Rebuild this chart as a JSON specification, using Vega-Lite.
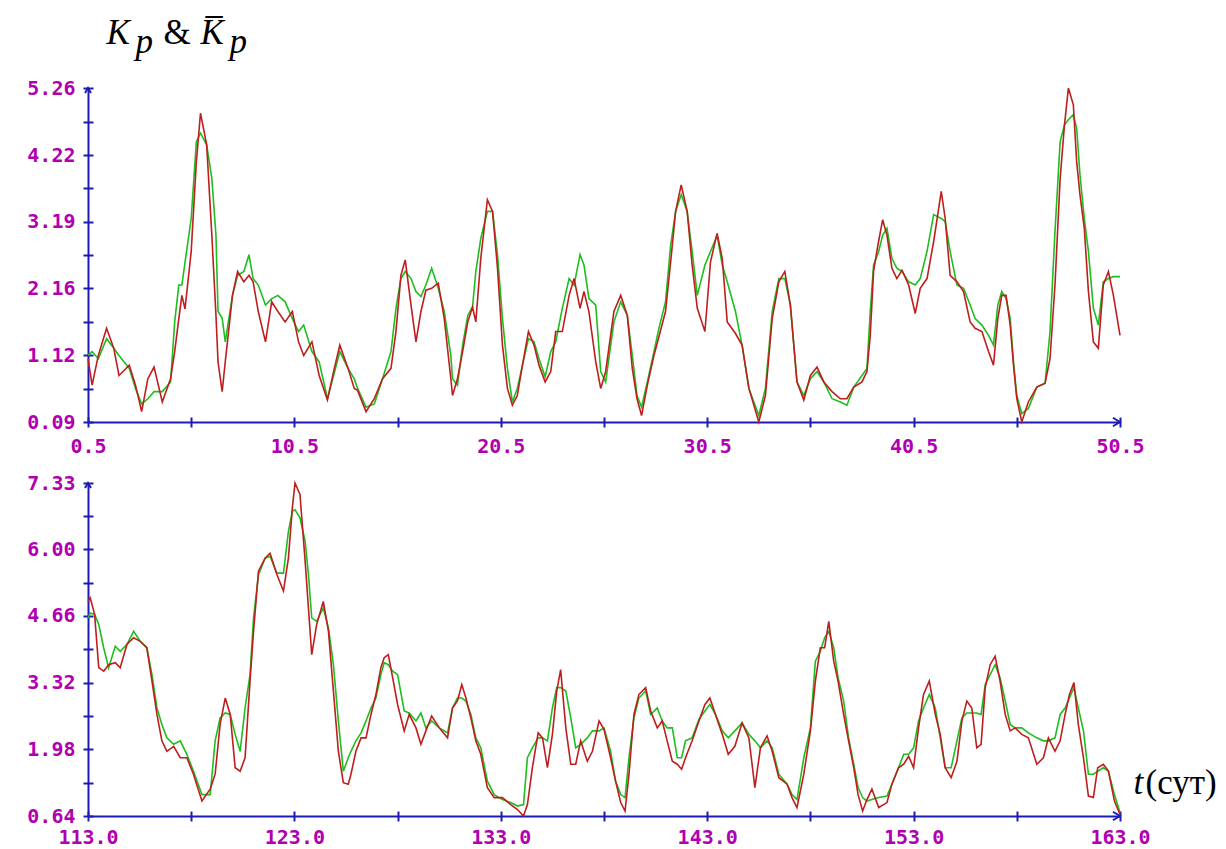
{
  "$schema": "https://vega.github.io/schema/vega-lite/v6.json",
  "autosize": {"type": "none"},
  "padding": {"left": 88, "top": 88, "right": 1138, "bottom": 761},
  "background": "white",
  "bounds": "flush",
  "spacing": 61,
  "config": {
    "view": {"stroke": null},
    "axis": {
      "grid": false,
      "domainColor": "#1c1cb4",
      "domainWidth": 2,
      "tickColor": "#1c1cb4",
      "tickWidth": 2,
      "tickSize": 5,
      "labelColor": "#b000b0",
      "labelFont": "DejaVu Sans Mono",
      "labelFontWeight": "bold",
      "labelFontSize": 20,
      "labelFlush": false,
      "labelOverlap": false,
      "labelBound": false,
      "titleColor": "black",
      "titleFont": "Liberation Serif",
      "titleFontWeight": "normal",
      "titleFontSize": 35,
      "titleAngle": 0,
      "titleAlign": "left",
      "titleBaseline": "alphabetic"
    }
  },
  "datasets": {
    "top": [
      {"t": 0.5, "Kp": 1.07, "Kbar": 1.12},
      {"t": 0.7, "Kp": 0.66, "Kbar": 1.18},
      {"t": 1.0, "Kp": 1.12, "Kbar": 1.07},
      {"t": 1.4, "Kp": 1.54, "Kbar": 1.38},
      {"t": 1.75, "Kp": 1.23, "Kbar": 1.23},
      {"t": 2.0, "Kp": 0.81, "Kbar": 1.12},
      {"t": 2.5, "Kp": 0.97, "Kbar": 0.92},
      {"t": 2.8, "Kp": 0.66, "Kbar": 0.61},
      {"t": 3.1, "Kp": 0.25, "Kbar": 0.37},
      {"t": 3.4, "Kp": 0.76, "Kbar": 0.45},
      {"t": 3.7, "Kp": 0.94, "Kbar": 0.56},
      {"t": 4.1, "Kp": 0.40, "Kbar": 0.56},
      {"t": 4.5, "Kp": 0.76, "Kbar": 0.71},
      {"t": 4.7, "Kp": 1.18, "Kbar": 1.64},
      {"t": 4.9, "Kp": 1.69, "Kbar": 2.21},
      {"t": 5.05, "Kp": 2.05, "Kbar": 2.21},
      {"t": 5.2, "Kp": 1.84, "Kbar": 2.56},
      {"t": 5.5, "Kp": 2.73, "Kbar": 3.24},
      {"t": 5.75, "Kp": 4.12, "Kbar": 4.43},
      {"t": 5.95, "Kp": 4.87, "Kbar": 4.56},
      {"t": 6.25, "Kp": 4.38, "Kbar": 4.38},
      {"t": 6.5, "Kp": 2.98, "Kbar": 3.86},
      {"t": 6.7, "Kp": 1.74, "Kbar": 2.98},
      {"t": 6.8, "Kp": 1.02, "Kbar": 1.80},
      {"t": 7.0, "Kp": 0.56, "Kbar": 1.70},
      {"t": 7.15, "Kp": 1.02, "Kbar": 1.33},
      {"t": 7.5, "Kp": 2.05, "Kbar": 2.05},
      {"t": 7.75, "Kp": 2.42, "Kbar": 2.36},
      {"t": 8.05, "Kp": 2.26, "Kbar": 2.42},
      {"t": 8.3, "Kp": 2.36, "Kbar": 2.68},
      {"t": 8.5, "Kp": 2.26, "Kbar": 2.31},
      {"t": 8.75, "Kp": 1.80, "Kbar": 2.21},
      {"t": 9.1, "Kp": 1.33, "Kbar": 1.90},
      {"t": 9.4, "Kp": 1.95, "Kbar": 2.00},
      {"t": 9.7, "Kp": 1.80, "Kbar": 2.05},
      {"t": 10.05, "Kp": 1.64, "Kbar": 1.95},
      {"t": 10.4, "Kp": 1.80, "Kbar": 1.69},
      {"t": 10.7, "Kp": 1.33, "Kbar": 1.49},
      {"t": 10.95, "Kp": 1.12, "Kbar": 1.59},
      {"t": 11.35, "Kp": 1.33, "Kbar": 1.18},
      {"t": 11.7, "Kp": 0.81, "Kbar": 1.02},
      {"t": 12.1, "Kp": 0.43, "Kbar": 0.45},
      {"t": 12.4, "Kp": 0.87, "Kbar": 0.81},
      {"t": 12.7, "Kp": 1.28, "Kbar": 1.18},
      {"t": 13.1, "Kp": 0.92, "Kbar": 0.92},
      {"t": 13.4, "Kp": 0.61, "Kbar": 0.76},
      {"t": 13.56, "Kp": 0.58, "Kbar": 0.61},
      {"t": 13.97, "Kp": 0.25, "Kbar": 0.32},
      {"t": 14.37, "Kp": 0.45, "Kbar": 0.37},
      {"t": 14.77, "Kp": 0.76, "Kbar": 0.76},
      {"t": 15.18, "Kp": 0.92, "Kbar": 1.18},
      {"t": 15.42, "Kp": 1.49, "Kbar": 1.85},
      {"t": 15.66, "Kp": 2.36, "Kbar": 2.31},
      {"t": 15.87, "Kp": 2.60, "Kbar": 2.42},
      {"t": 16.15, "Kp": 1.90, "Kbar": 2.31},
      {"t": 16.39, "Kp": 1.33, "Kbar": 2.11},
      {"t": 16.63, "Kp": 1.80, "Kbar": 2.03},
      {"t": 16.87, "Kp": 2.13, "Kbar": 2.21},
      {"t": 17.15, "Kp": 2.16, "Kbar": 2.47},
      {"t": 17.47, "Kp": 2.24, "Kbar": 2.16},
      {"t": 17.76, "Kp": 1.69, "Kbar": 1.80},
      {"t": 18.08, "Kp": 0.76, "Kbar": 1.12},
      {"t": 18.16, "Kp": 0.50, "Kbar": 0.76},
      {"t": 18.4, "Kp": 0.76, "Kbar": 0.66},
      {"t": 18.65, "Kp": 1.18, "Kbar": 1.28},
      {"t": 18.9, "Kp": 1.64, "Kbar": 1.74},
      {"t": 19.13, "Kp": 1.87, "Kbar": 1.87},
      {"t": 19.29, "Kp": 1.64, "Kbar": 2.42},
      {"t": 19.53, "Kp": 2.62, "Kbar": 2.93},
      {"t": 19.85, "Kp": 3.53, "Kbar": 3.35},
      {"t": 20.1, "Kp": 3.35, "Kbar": 3.35},
      {"t": 20.34, "Kp": 2.47, "Kbar": 2.68},
      {"t": 20.58, "Kp": 1.28, "Kbar": 1.69},
      {"t": 20.82, "Kp": 0.61, "Kbar": 0.92},
      {"t": 21.06, "Kp": 0.35, "Kbar": 0.40},
      {"t": 21.3, "Kp": 0.50, "Kbar": 0.61},
      {"t": 21.55, "Kp": 0.97, "Kbar": 0.97},
      {"t": 21.84, "Kp": 1.49, "Kbar": 1.38},
      {"t": 22.11, "Kp": 1.28, "Kbar": 1.33},
      {"t": 22.35, "Kp": 0.97, "Kbar": 1.07},
      {"t": 22.65, "Kp": 0.71, "Kbar": 0.79},
      {"t": 22.92, "Kp": 0.87, "Kbar": 1.18},
      {"t": 23.16, "Kp": 1.49, "Kbar": 1.33},
      {"t": 23.48, "Kp": 1.49, "Kbar": 1.85},
      {"t": 23.81, "Kp": 2.05, "Kbar": 2.31},
      {"t": 24.05, "Kp": 2.31, "Kbar": 2.21},
      {"t": 24.34, "Kp": 1.85, "Kbar": 2.68},
      {"t": 24.53, "Kp": 2.11, "Kbar": 2.52},
      {"t": 24.77, "Kp": 1.80, "Kbar": 2.00},
      {"t": 25.1, "Kp": 1.02, "Kbar": 1.90},
      {"t": 25.34, "Kp": 0.61, "Kbar": 0.87},
      {"t": 25.58, "Kp": 0.87, "Kbar": 0.71},
      {"t": 25.98, "Kp": 1.80, "Kbar": 1.64},
      {"t": 26.31, "Kp": 2.05, "Kbar": 1.95},
      {"t": 26.63, "Kp": 1.74, "Kbar": 1.74},
      {"t": 26.87, "Kp": 0.92, "Kbar": 1.12},
      {"t": 27.1, "Kp": 0.45, "Kbar": 0.50},
      {"t": 27.32, "Kp": 0.19, "Kbar": 0.32},
      {"t": 27.6, "Kp": 0.66, "Kbar": 0.71},
      {"t": 27.92, "Kp": 1.12, "Kbar": 1.18},
      {"t": 28.16, "Kp": 1.41, "Kbar": 1.54},
      {"t": 28.48, "Kp": 1.80, "Kbar": 1.95},
      {"t": 28.73, "Kp": 2.57, "Kbar": 2.83},
      {"t": 28.97, "Kp": 3.35, "Kbar": 3.35},
      {"t": 29.24, "Kp": 3.76, "Kbar": 3.61},
      {"t": 29.53, "Kp": 3.35, "Kbar": 3.35},
      {"t": 29.77, "Kp": 2.52, "Kbar": 2.73},
      {"t": 30.02, "Kp": 1.85, "Kbar": 2.05},
      {"t": 30.39, "Kp": 1.49, "Kbar": 2.52},
      {"t": 30.66, "Kp": 2.57, "Kbar": 2.73},
      {"t": 30.98, "Kp": 3.01, "Kbar": 2.98},
      {"t": 31.23, "Kp": 2.62, "Kbar": 2.52},
      {"t": 31.47, "Kp": 1.64, "Kbar": 2.26},
      {"t": 31.87, "Kp": 1.46, "Kbar": 1.80},
      {"t": 32.19, "Kp": 1.28, "Kbar": 1.28},
      {"t": 32.52, "Kp": 0.61, "Kbar": 0.61},
      {"t": 33.0, "Kp": 0.09, "Kbar": 0.19},
      {"t": 33.32, "Kp": 0.50, "Kbar": 0.61},
      {"t": 33.65, "Kp": 1.69, "Kbar": 1.80},
      {"t": 33.97, "Kp": 2.26, "Kbar": 2.31},
      {"t": 34.26, "Kp": 2.42, "Kbar": 2.31},
      {"t": 34.53, "Kp": 1.90, "Kbar": 1.90},
      {"t": 34.85, "Kp": 0.71, "Kbar": 0.71},
      {"t": 35.18, "Kp": 0.43, "Kbar": 0.50},
      {"t": 35.5, "Kp": 0.81, "Kbar": 0.76},
      {"t": 35.82, "Kp": 0.94, "Kbar": 0.87},
      {"t": 36.15, "Kp": 0.71, "Kbar": 0.71},
      {"t": 36.55, "Kp": 0.56, "Kbar": 0.45},
      {"t": 36.95, "Kp": 0.45, "Kbar": 0.40},
      {"t": 37.27, "Kp": 0.45, "Kbar": 0.35},
      {"t": 37.6, "Kp": 0.63, "Kbar": 0.63},
      {"t": 38.0, "Kp": 0.71, "Kbar": 0.81},
      {"t": 38.24, "Kp": 0.87, "Kbar": 0.92},
      {"t": 38.4, "Kp": 1.43, "Kbar": 1.80},
      {"t": 38.56, "Kp": 2.42, "Kbar": 2.52},
      {"t": 38.8, "Kp": 2.88, "Kbar": 2.72},
      {"t": 39.0, "Kp": 3.22, "Kbar": 2.98},
      {"t": 39.21, "Kp": 2.98, "Kbar": 3.09},
      {"t": 39.45, "Kp": 2.47, "Kbar": 2.62},
      {"t": 39.69, "Kp": 2.31, "Kbar": 2.47},
      {"t": 39.94, "Kp": 2.44, "Kbar": 2.42},
      {"t": 40.26, "Kp": 2.21, "Kbar": 2.26},
      {"t": 40.58, "Kp": 1.77, "Kbar": 2.21},
      {"t": 40.82, "Kp": 2.16, "Kbar": 2.31},
      {"t": 41.15, "Kp": 2.31, "Kbar": 2.73},
      {"t": 41.47, "Kp": 2.88, "Kbar": 3.30},
      {"t": 41.84, "Kp": 3.66, "Kbar": 3.24},
      {"t": 42.03, "Kp": 3.24, "Kbar": 3.19},
      {"t": 42.27, "Kp": 2.36, "Kbar": 2.73},
      {"t": 42.6, "Kp": 2.26, "Kbar": 2.21},
      {"t": 42.92, "Kp": 2.11, "Kbar": 2.16},
      {"t": 43.24, "Kp": 1.64, "Kbar": 1.90},
      {"t": 43.48, "Kp": 1.54, "Kbar": 1.69},
      {"t": 43.81, "Kp": 1.49, "Kbar": 1.59},
      {"t": 44.13, "Kp": 1.18, "Kbar": 1.43},
      {"t": 44.37, "Kp": 0.97, "Kbar": 1.28},
      {"t": 44.58, "Kp": 1.69, "Kbar": 1.90},
      {"t": 44.77, "Kp": 2.05, "Kbar": 2.11},
      {"t": 44.98, "Kp": 2.05, "Kbar": 2.00},
      {"t": 45.18, "Kp": 1.59, "Kbar": 1.69},
      {"t": 45.34, "Kp": 0.97, "Kbar": 1.02},
      {"t": 45.5, "Kp": 0.45, "Kbar": 0.50},
      {"t": 45.74, "Kp": 0.09, "Kbar": 0.22},
      {"t": 46.06, "Kp": 0.40, "Kbar": 0.30},
      {"t": 46.47, "Kp": 0.63, "Kbar": 0.63},
      {"t": 46.87, "Kp": 0.69, "Kbar": 0.69},
      {"t": 47.11, "Kp": 1.07, "Kbar": 1.49},
      {"t": 47.35, "Kp": 2.21, "Kbar": 3.04},
      {"t": 47.6, "Kp": 3.86, "Kbar": 4.43},
      {"t": 47.81, "Kp": 4.69, "Kbar": 4.69},
      {"t": 48.0, "Kp": 5.26, "Kbar": 4.77},
      {"t": 48.24, "Kp": 5.00, "Kbar": 4.85},
      {"t": 48.4, "Kp": 4.12, "Kbar": 4.64},
      {"t": 48.56, "Kp": 3.61, "Kbar": 3.92},
      {"t": 48.77, "Kp": 3.09, "Kbar": 3.24},
      {"t": 48.97, "Kp": 2.11, "Kbar": 2.73},
      {"t": 49.21, "Kp": 1.33, "Kbar": 1.85},
      {"t": 49.45, "Kp": 1.23, "Kbar": 1.59},
      {"t": 49.69, "Kp": 2.21, "Kbar": 2.26},
      {"t": 49.94, "Kp": 2.42, "Kbar": 2.31},
      {"t": 50.18, "Kp": 2.05, "Kbar": 2.34},
      {"t": 50.5, "Kp": 1.43, "Kbar": 2.34}
    ],
    "bottom": [
      {"t": 113.0, "Kp": 4.95, "Kbar": 4.62},
      {"t": 113.11, "Kp": 5.02, "Kbar": 4.72},
      {"t": 113.32, "Kp": 4.69, "Kbar": 4.69},
      {"t": 113.52, "Kp": 3.62, "Kbar": 4.49},
      {"t": 113.76, "Kp": 3.55, "Kbar": 4.02},
      {"t": 114.0, "Kp": 3.68, "Kbar": 3.62},
      {"t": 114.32, "Kp": 3.72, "Kbar": 4.05},
      {"t": 114.56, "Kp": 3.62, "Kbar": 3.95},
      {"t": 114.89, "Kp": 4.09, "Kbar": 4.09},
      {"t": 115.21, "Kp": 4.22, "Kbar": 4.35},
      {"t": 115.53, "Kp": 4.15, "Kbar": 4.15},
      {"t": 115.85, "Kp": 4.02, "Kbar": 4.02},
      {"t": 116.1, "Kp": 3.35, "Kbar": 3.48},
      {"t": 116.34, "Kp": 2.68, "Kbar": 2.81},
      {"t": 116.58, "Kp": 2.15, "Kbar": 2.48},
      {"t": 116.82, "Kp": 1.94, "Kbar": 2.21},
      {"t": 117.15, "Kp": 2.04, "Kbar": 2.08},
      {"t": 117.47, "Kp": 1.81, "Kbar": 2.15},
      {"t": 117.79, "Kp": 1.81, "Kbar": 1.88},
      {"t": 118.11, "Kp": 1.48, "Kbar": 1.54},
      {"t": 118.52, "Kp": 0.94, "Kbar": 1.07},
      {"t": 118.92, "Kp": 1.18, "Kbar": 1.07},
      {"t": 119.16, "Kp": 1.48, "Kbar": 2.15},
      {"t": 119.4, "Kp": 2.48, "Kbar": 2.61},
      {"t": 119.65, "Kp": 3.01, "Kbar": 2.71},
      {"t": 119.89, "Kp": 2.68, "Kbar": 2.68},
      {"t": 120.13, "Kp": 1.61, "Kbar": 2.28},
      {"t": 120.37, "Kp": 1.54, "Kbar": 1.94},
      {"t": 120.61, "Kp": 1.81, "Kbar": 2.81},
      {"t": 120.85, "Kp": 3.35, "Kbar": 3.48},
      {"t": 121.02, "Kp": 4.35, "Kbar": 4.62},
      {"t": 121.26, "Kp": 5.56, "Kbar": 5.49},
      {"t": 121.58, "Kp": 5.82, "Kbar": 5.82},
      {"t": 121.82, "Kp": 5.92, "Kbar": 5.86},
      {"t": 122.15, "Kp": 5.49, "Kbar": 5.52},
      {"t": 122.47, "Kp": 5.16, "Kbar": 5.52},
      {"t": 122.71, "Kp": 5.82, "Kbar": 6.36},
      {"t": 122.9, "Kp": 6.83, "Kbar": 6.76},
      {"t": 123.03, "Kp": 7.33, "Kbar": 6.79},
      {"t": 123.27, "Kp": 7.10, "Kbar": 6.63},
      {"t": 123.52, "Kp": 5.76, "Kbar": 6.16},
      {"t": 123.68, "Kp": 4.82, "Kbar": 5.49},
      {"t": 123.84, "Kp": 3.88, "Kbar": 4.62},
      {"t": 124.08, "Kp": 4.49, "Kbar": 4.55},
      {"t": 124.4, "Kp": 4.95, "Kbar": 4.82},
      {"t": 124.65, "Kp": 4.35, "Kbar": 4.42},
      {"t": 124.89, "Kp": 3.15, "Kbar": 3.68},
      {"t": 125.13, "Kp": 1.94, "Kbar": 2.55},
      {"t": 125.37, "Kp": 1.31, "Kbar": 1.54},
      {"t": 125.61, "Kp": 1.28, "Kbar": 1.81},
      {"t": 125.74, "Kp": 1.48, "Kbar": 1.94},
      {"t": 125.98, "Kp": 1.94, "Kbar": 2.15},
      {"t": 126.23, "Kp": 2.21, "Kbar": 2.31},
      {"t": 126.47, "Kp": 2.21, "Kbar": 2.55},
      {"t": 126.71, "Kp": 2.68, "Kbar": 2.81},
      {"t": 126.95, "Kp": 3.08, "Kbar": 3.01},
      {"t": 127.19, "Kp": 3.62, "Kbar": 3.48},
      {"t": 127.35, "Kp": 3.82, "Kbar": 3.72},
      {"t": 127.55, "Kp": 3.88, "Kbar": 3.68},
      {"t": 127.76, "Kp": 3.42, "Kbar": 3.55},
      {"t": 128.0, "Kp": 2.88, "Kbar": 3.48},
      {"t": 128.32, "Kp": 2.35, "Kbar": 2.75},
      {"t": 128.56, "Kp": 2.68, "Kbar": 2.71},
      {"t": 128.89, "Kp": 2.41, "Kbar": 2.55},
      {"t": 129.13, "Kp": 2.08, "Kbar": 2.71},
      {"t": 129.37, "Kp": 2.35, "Kbar": 2.41},
      {"t": 129.65, "Kp": 2.65, "Kbar": 2.55},
      {"t": 130.02, "Kp": 2.41, "Kbar": 2.41},
      {"t": 130.42, "Kp": 2.21, "Kbar": 2.31},
      {"t": 130.66, "Kp": 2.81, "Kbar": 2.81},
      {"t": 130.9, "Kp": 2.95, "Kbar": 3.01},
      {"t": 131.11, "Kp": 3.28, "Kbar": 3.01},
      {"t": 131.31, "Kp": 3.01, "Kbar": 2.95},
      {"t": 131.55, "Kp": 2.61, "Kbar": 2.68},
      {"t": 131.79, "Kp": 2.15, "Kbar": 2.21},
      {"t": 132.03, "Kp": 1.88, "Kbar": 2.01},
      {"t": 132.35, "Kp": 1.21, "Kbar": 1.34},
      {"t": 132.68, "Kp": 1.01, "Kbar": 1.07},
      {"t": 133.08, "Kp": 1.01, "Kbar": 0.97},
      {"t": 133.48, "Kp": 0.87, "Kbar": 0.91},
      {"t": 133.81, "Kp": 0.77, "Kbar": 0.84},
      {"t": 134.1, "Kp": 0.64, "Kbar": 0.87},
      {"t": 134.29, "Kp": 0.87, "Kbar": 1.81},
      {"t": 134.53, "Kp": 1.61, "Kbar": 2.01},
      {"t": 134.81, "Kp": 2.31, "Kbar": 2.21},
      {"t": 135.02, "Kp": 2.21, "Kbar": 2.21},
      {"t": 135.26, "Kp": 1.61, "Kbar": 2.15},
      {"t": 135.5, "Kp": 2.28, "Kbar": 2.81},
      {"t": 135.71, "Kp": 3.15, "Kbar": 3.22},
      {"t": 135.9, "Kp": 3.58, "Kbar": 3.22},
      {"t": 136.15, "Kp": 2.41, "Kbar": 3.15},
      {"t": 136.39, "Kp": 1.68, "Kbar": 2.61},
      {"t": 136.63, "Kp": 1.68, "Kbar": 2.01},
      {"t": 136.87, "Kp": 2.15, "Kbar": 2.08},
      {"t": 137.19, "Kp": 1.74, "Kbar": 2.21},
      {"t": 137.44, "Kp": 1.94, "Kbar": 2.35},
      {"t": 137.76, "Kp": 2.55, "Kbar": 2.35},
      {"t": 138.0, "Kp": 2.38, "Kbar": 2.41},
      {"t": 138.32, "Kp": 1.81, "Kbar": 1.94},
      {"t": 138.56, "Kp": 1.34, "Kbar": 1.34},
      {"t": 138.81, "Kp": 0.91, "Kbar": 1.07},
      {"t": 139.02, "Kp": 0.74, "Kbar": 1.01},
      {"t": 139.21, "Kp": 1.48, "Kbar": 1.81},
      {"t": 139.45, "Kp": 2.68, "Kbar": 2.61},
      {"t": 139.69, "Kp": 3.08, "Kbar": 3.01},
      {"t": 140.02, "Kp": 3.22, "Kbar": 3.15},
      {"t": 140.26, "Kp": 2.75, "Kbar": 2.68},
      {"t": 140.58, "Kp": 2.41, "Kbar": 2.81},
      {"t": 140.82, "Kp": 2.55, "Kbar": 2.55},
      {"t": 141.06, "Kp": 2.15, "Kbar": 2.41},
      {"t": 141.31, "Kp": 1.74, "Kbar": 2.41},
      {"t": 141.55, "Kp": 1.68, "Kbar": 1.81},
      {"t": 141.76, "Kp": 1.58, "Kbar": 1.81},
      {"t": 141.95, "Kp": 1.81, "Kbar": 2.15},
      {"t": 142.27, "Kp": 2.15, "Kbar": 2.21},
      {"t": 142.6, "Kp": 2.55, "Kbar": 2.58},
      {"t": 142.89, "Kp": 2.88, "Kbar": 2.75},
      {"t": 143.13, "Kp": 3.01, "Kbar": 2.88},
      {"t": 143.4, "Kp": 2.68, "Kbar": 2.68},
      {"t": 143.73, "Kp": 2.28, "Kbar": 2.35},
      {"t": 144.02, "Kp": 1.88, "Kbar": 2.21},
      {"t": 144.34, "Kp": 2.04, "Kbar": 2.35},
      {"t": 144.69, "Kp": 2.51, "Kbar": 2.51},
      {"t": 145.02, "Kp": 2.21, "Kbar": 2.28},
      {"t": 145.31, "Kp": 1.21, "Kbar": 2.15},
      {"t": 145.58, "Kp": 2.01, "Kbar": 2.01},
      {"t": 145.9, "Kp": 2.25, "Kbar": 2.15},
      {"t": 146.15, "Kp": 1.94, "Kbar": 2.01},
      {"t": 146.47, "Kp": 1.41, "Kbar": 1.48},
      {"t": 146.87, "Kp": 1.28, "Kbar": 1.28},
      {"t": 147.11, "Kp": 1.01, "Kbar": 1.07},
      {"t": 147.35, "Kp": 0.81, "Kbar": 0.97},
      {"t": 147.68, "Kp": 1.48, "Kbar": 1.81},
      {"t": 148.0, "Kp": 2.35, "Kbar": 2.41},
      {"t": 148.24, "Kp": 3.35, "Kbar": 3.75},
      {"t": 148.48, "Kp": 4.02, "Kbar": 3.95},
      {"t": 148.69, "Kp": 4.02, "Kbar": 4.22},
      {"t": 148.89, "Kp": 4.55, "Kbar": 4.35},
      {"t": 149.13, "Kp": 3.75, "Kbar": 4.02},
      {"t": 149.34, "Kp": 3.35, "Kbar": 3.42},
      {"t": 149.61, "Kp": 2.68, "Kbar": 2.95},
      {"t": 149.85, "Kp": 2.15, "Kbar": 2.21},
      {"t": 150.1, "Kp": 1.61, "Kbar": 1.68},
      {"t": 150.31, "Kp": 1.07, "Kbar": 1.21},
      {"t": 150.53, "Kp": 0.74, "Kbar": 1.01},
      {"t": 150.74, "Kp": 0.97, "Kbar": 0.94},
      {"t": 150.98, "Kp": 1.18, "Kbar": 0.97},
      {"t": 151.31, "Kp": 0.81, "Kbar": 1.01},
      {"t": 151.71, "Kp": 0.91, "Kbar": 1.04},
      {"t": 151.95, "Kp": 1.28, "Kbar": 1.28},
      {"t": 152.27, "Kp": 1.61, "Kbar": 1.61},
      {"t": 152.52, "Kp": 1.68, "Kbar": 1.88},
      {"t": 152.76, "Kp": 1.84, "Kbar": 1.88},
      {"t": 153.0, "Kp": 1.61, "Kbar": 2.01},
      {"t": 153.24, "Kp": 2.41, "Kbar": 2.55},
      {"t": 153.48, "Kp": 3.08, "Kbar": 2.81},
      {"t": 153.76, "Kp": 3.35, "Kbar": 3.08},
      {"t": 154.05, "Kp": 2.68, "Kbar": 2.81},
      {"t": 154.29, "Kp": 2.28, "Kbar": 2.21},
      {"t": 154.53, "Kp": 1.61, "Kbar": 1.61},
      {"t": 154.82, "Kp": 1.41, "Kbar": 1.61},
      {"t": 155.1, "Kp": 1.74, "Kbar": 2.15},
      {"t": 155.34, "Kp": 2.55, "Kbar": 2.61},
      {"t": 155.58, "Kp": 2.95, "Kbar": 2.71},
      {"t": 155.82, "Kp": 2.81, "Kbar": 2.71},
      {"t": 156.06, "Kp": 2.01, "Kbar": 2.71},
      {"t": 156.27, "Kp": 2.08, "Kbar": 2.68},
      {"t": 156.47, "Kp": 3.22, "Kbar": 3.28},
      {"t": 156.71, "Kp": 3.68, "Kbar": 3.48},
      {"t": 156.95, "Kp": 3.85, "Kbar": 3.68},
      {"t": 157.19, "Kp": 3.35, "Kbar": 3.42},
      {"t": 157.44, "Kp": 2.68, "Kbar": 2.95},
      {"t": 157.68, "Kp": 2.35, "Kbar": 2.48},
      {"t": 157.92, "Kp": 2.41, "Kbar": 2.41},
      {"t": 158.24, "Kp": 2.28, "Kbar": 2.41},
      {"t": 158.56, "Kp": 2.21, "Kbar": 2.31},
      {"t": 158.97, "Kp": 1.68, "Kbar": 2.21},
      {"t": 159.29, "Kp": 1.81, "Kbar": 2.15},
      {"t": 159.53, "Kp": 2.21, "Kbar": 2.15},
      {"t": 159.85, "Kp": 1.94, "Kbar": 2.21},
      {"t": 160.1, "Kp": 2.15, "Kbar": 2.68},
      {"t": 160.34, "Kp": 2.68, "Kbar": 2.81},
      {"t": 160.55, "Kp": 3.08, "Kbar": 3.01},
      {"t": 160.77, "Kp": 3.32, "Kbar": 3.22},
      {"t": 160.98, "Kp": 2.48, "Kbar": 2.81},
      {"t": 161.23, "Kp": 1.81, "Kbar": 2.35},
      {"t": 161.47, "Kp": 1.04, "Kbar": 1.48},
      {"t": 161.71, "Kp": 1.01, "Kbar": 1.48},
      {"t": 161.92, "Kp": 1.61, "Kbar": 1.54},
      {"t": 162.19, "Kp": 1.68, "Kbar": 1.61},
      {"t": 162.44, "Kp": 1.54, "Kbar": 1.54},
      {"t": 162.73, "Kp": 0.94, "Kbar": 1.07},
      {"t": 163.0, "Kp": 0.67, "Kbar": 0.71}
    ]
  },
  "vconcat": [
    {
      "width": 1032,
      "height": 334,
      "data": {"name": "top"},
      "layer": [
        {
          "mark": {"type": "line", "color": "#1ebe1e", "strokeWidth": 1.6, "clip": false},
          "encoding": {
            "x": {"field": "t", "type": "quantitative",
              "scale": {"domain": [0.5, 50.5], "nice": false, "zero": false},
              "axis": {"orient": "bottom", "domain": false, "labels": false, "tickSize": -5,
                "values": [0.5, 5.5, 10.5, 15.5, 20.5, 25.5, 30.5, 35.5, 40.5, 45.5, 50.5],
                "title": "p", "titleFontStyle": "italic", "titleX": 141, "titleY": -370}},
            "y": {"field": "Kbar", "type": "quantitative",
              "scale": {"domain": [0.09, 5.26], "nice": false, "zero": false},
              "axis": {"orient": "left", "domain": false, "labels": false, "tickSize": -5,
                "values": [0.09, 0.605, 1.12, 1.64, 2.16, 2.675, 3.19, 3.705, 4.22, 4.74, 5.26],
                "title": "K\u0305", "titleFontStyle": "italic", "titleX": 112, "titleY": -45}}
          }
        },
        {
          "mark": {"type": "line", "color": "#be1e1e", "strokeWidth": 1.6, "clip": false},
          "encoding": {
            "x": {"field": "t", "type": "quantitative",
              "axis": {"orient": "bottom",
                "values": [0.5, 5.5, 10.5, 15.5, 20.5, 25.5, 30.5, 35.5, 40.5, 45.5, 50.5],
                "labelExpr": "indexof([0.5, 10.5, 20.5, 30.5, 40.5, 50.5], datum.value) >= 0 ? format(datum.value, '.1f') : ''",
                "labelPadding": 9,
                "title": "p", "titleFontStyle": "italic", "titleX": 47, "titleY": -370}},
            "y": {"field": "Kp", "type": "quantitative",
              "axis": {"orient": "left",
                "values": [0.09, 0.605, 1.12, 1.64, 2.16, 2.675, 3.19, 3.705, 4.22, 4.74, 5.26],
                "labelExpr": "indexof([0.09, 1.12, 2.16, 3.19, 4.22, 5.26], datum.value) >= 0 ? format(datum.value, '.2f') : ''",
                "labelPadding": 8,
                "title": "K", "titleFontStyle": "italic", "titleX": 18, "titleY": -45}}
          }
        },
        {
          "data": {"values": [{}]},
          "mark": {"type": "point", "shape": "M -0.6 1 L 0 0 L 0.6 1", "filled": false, "stroke": "#1c1cb4", "strokeWidth": 2, "size": 100, "opacity": 1, "clip": false},
          "encoding": {
            "x": {"datum": 0.5, "type": "quantitative", "axis": null},
            "y": {"datum": 5.26, "type": "quantitative", "axis": null}
          }
        },
        {
          "data": {"values": [{}]},
          "mark": {"type": "point", "shape": "M -1 -0.6 L 0 0 L -1 0.6", "filled": false, "stroke": "#1c1cb4", "strokeWidth": 2, "size": 200, "opacity": 1, "clip": false},
          "encoding": {
            "x": {"datum": 50.5, "type": "quantitative", "axis": null},
            "y": {"datum": 0.09, "type": "quantitative", "axis": null}
          }
        }
      ],
      "resolve": {"axis": {"x": "independent", "y": "independent"}}
    },
    {
      "width": 1032,
      "height": 333,
      "data": {"name": "bottom"},
      "layer": [
        {
          "mark": {"type": "line", "color": "#1ebe1e", "strokeWidth": 1.6, "clip": false},
          "encoding": {
            "x": {"field": "t", "type": "quantitative",
              "scale": {"domain": [113, 163], "nice": false, "zero": false},
              "axis": {"orient": "bottom", "domain": false, "labels": false, "tickSize": -5,
                "values": [113, 118, 123, 128, 133, 138, 143, 148, 153, 158, 163],
                "title": null}},
            "y": {"field": "Kbar", "type": "quantitative",
              "scale": {"domain": [0.64, 7.33], "nice": false, "zero": false},
              "axis": {"orient": "left", "domain": false, "labels": false, "tickSize": -5,
                "values": [0.64, 1.31, 1.98, 2.65, 3.32, 3.99, 4.66, 5.33, 6.0, 6.665, 7.33],
                "title": "&", "titleFontStyle": "normal", "titleX": 75, "titleY": -440}}
          }
        },
        {
          "mark": {"type": "line", "color": "#be1e1e", "strokeWidth": 1.6, "clip": false},
          "encoding": {
            "x": {"field": "t", "type": "quantitative",
              "axis": {"orient": "bottom",
                "values": [113, 118, 123, 128, 133, 138, 143, 148, 153, 158, 163],
                "labelExpr": "indexof([113, 123, 133, 143, 153, 163], datum.value) >= 0 ? format(datum.value, '.1f') : ''",
                "labelPadding": 6,
                "title": "t", "titleFontStyle": "italic", "titleX": 1045, "titleY": -23}},
            "y": {"field": "Kp", "type": "quantitative",
              "axis": {"orient": "left",
                "values": [0.64, 1.31, 1.98, 2.65, 3.32, 3.99, 4.66, 5.33, 6.0, 6.665, 7.33],
                "labelExpr": "indexof([0.64, 1.98, 3.32, 4.66, 6.0, 7.33], datum.value) >= 0 ? format(datum.value, '.2f') : ''",
                "labelPadding": 8,
                "title": "(сут)", "titleFontStyle": "normal", "titleX": 1057, "titleY": 310}}
          }
        },
        {
          "data": {"values": [{}]},
          "mark": {"type": "point", "shape": "M -0.6 1 L 0 0 L 0.6 1", "filled": false, "stroke": "#1c1cb4", "strokeWidth": 2, "size": 100, "opacity": 1, "clip": false},
          "encoding": {
            "x": {"datum": 113, "type": "quantitative", "axis": null},
            "y": {"datum": 7.33, "type": "quantitative", "axis": null}
          }
        },
        {
          "data": {"values": [{}]},
          "mark": {"type": "point", "shape": "M -1 -0.6 L 0 0 L -1 0.6", "filled": false, "stroke": "#1c1cb4", "strokeWidth": 2, "size": 200, "opacity": 1, "clip": false},
          "encoding": {
            "x": {"datum": 163, "type": "quantitative", "axis": null},
            "y": {"datum": 0.64, "type": "quantitative", "axis": null}
          }
        }
      ],
      "resolve": {"axis": {"x": "independent", "y": "independent"}}
    }
  ]
}
